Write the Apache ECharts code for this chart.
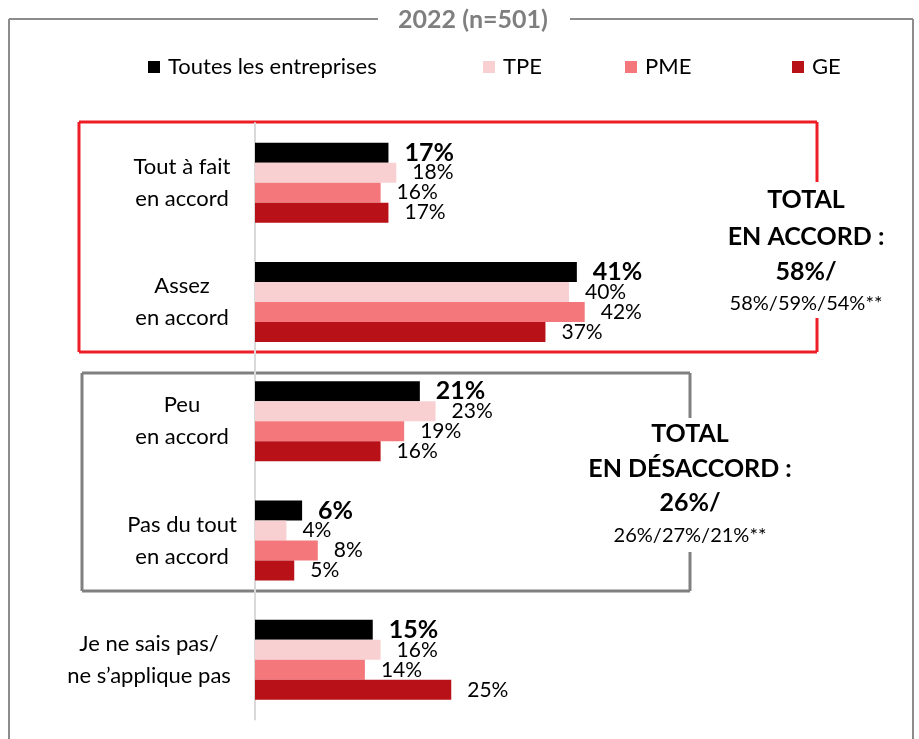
<!DOCTYPE html>
<html>
<head>
<meta charset="utf-8">
<script src="https://cdn.jsdelivr.net/npm/echarts@6/dist/echarts.min.js"></script>
<style>
  html, body { margin: 0; padding: 0; background: #fff; }
  #chart { width: 919px; height: 739px; }
</style>
</head>
<body>
<div id="chart"></div>
<script>
// Survey answers, 2022 (n=501)
const categories = [
  'Tout à fait\nen accord',
  'Assez\nen accord',
  'Peu\nen accord',
  'Pas du tout\nen accord',
  'Je ne sais pas/\nne s’applique pas'
];
const seriesNames = ['Toutes les entreprises', 'TPE', 'PME', 'GE'];
const toutes = [17, 41, 21, 6, 15];
const tpe = [18, 40, 23, 4, 16];
const pme = [16, 42, 19, 8, 14];
const ge = [17, 37, 16, 5, 25];
const titleText = '2022 (n=501)';
const totalAccord = ['TOTAL', 'EN ACCORD :', '58%/', '58%/59%/54%**'];
const totalDesaccord = ['TOTAL', 'EN DÉSACCORD :', '26%/', '26%/27%/21%**'];

const colors = ['#000000', '#F9D0D2', '#F3777B', '#B81118'];
const FONT = 'Lato';

const chart = echarts.init(document.getElementById('chart'), null, { renderer: 'canvas' });

function barSeries(name, data, idx) {
  const bold = idx === 0;
  return {
    name: name,
    type: 'bar',
    data: data,
    barWidth: 20,
    barGap: '0%',
    itemStyle: { color: colors[idx] },
    label: {
      show: true,
      position: 'right',
      distance: 16,
      formatter: '{c}%',
      color: '#000',
      fontFamily: FONT,
      fontSize: bold ? 25 : 21,
      fontWeight: bold ? 'bold' : 'normal'
    },
    emphasis: { disabled: true },
    animation: false
  };
}

function legendAt(name, left) {
  return {
    data: [name],
    left: left,
    top: 56,
    padding: 0,
    itemWidth: 12,
    itemHeight: 12,
    itemGap: 0,
    icon: 'rect',
    textStyle: { fontFamily: FONT, fontSize: 22, color: '#000', padding: [0, 0, 0, 3] },
    selectedMode: false
  };
}

function line(x1, y1, x2, y2, color, w) {
  return { type: 'line', shape: { x1, y1, x2, y2 }, style: { stroke: color, lineWidth: w }, silent: true };
}

function textEl(str, x, y, size, bold) {
  return {
    type: 'text', x: x, y: y, silent: true,
    style: {
      text: str, fill: '#000', font: (bold ? 'bold ' : '') + size + 'px ' + FONT,
      textAlign: 'center', textVerticalAlign: 'middle'
    }
  };
}

const frameGray = '#8c8c8c';
const boxRed = '#EE1D25';
const boxGray = '#808080';

const graphics = [
  // outer frame with title gap
  line(9, 19, 378, 19, frameGray, 2),
  line(570, 19, 913, 19, frameGray, 2),
  line(9, 19, 9, 739, frameGray, 2),
  line(913, 19, 913, 739, frameGray, 2),
  {
    type: 'text', x: 473, y: 20, silent: true,
    style: { text: titleText, fill: '#7f7f7f', font: 'bold 25px ' + FONT, textAlign: 'center', textVerticalAlign: 'middle' }
  },
  // agreement box
  line(79, 122, 817, 122, boxRed, 3),
  line(79, 352, 817, 352, boxRed, 3),
  line(79, 122, 79, 352, boxRed, 3),
  line(817, 122, 817, 182, boxRed, 3),
  line(817, 318, 817, 352, boxRed, 3),
  // disagreement box
  line(82, 373, 690, 373, boxGray, 3),
  line(82, 591, 690, 591, boxGray, 3),
  line(82, 373, 82, 591, boxGray, 3),
  line(690, 373, 690, 418, boxGray, 3),
  line(690, 552, 690, 591, boxGray, 3),
  // totals
  textEl(totalAccord[0], 806, 200, 25, true),
  textEl(totalAccord[1], 806, 237, 25, true),
  textEl(totalAccord[2], 806, 272, 25, true),
  textEl(totalAccord[3], 806, 304, 20, false),
  textEl(totalDesaccord[0], 690, 434, 25, true),
  textEl(totalDesaccord[1], 690, 469, 25, true),
  textEl(totalDesaccord[2], 690, 503, 25, true),
  textEl(totalDesaccord[3], 690, 536, 20, false)
];

const option = {
  backgroundColor: '#fff',
  animation: false,
  color: colors,
  legend: [
    legendAt(seriesNames[0], 148),
    legendAt(seriesNames[1], 483),
    legendAt(seriesNames[2], 625),
    legendAt(seriesNames[3], 792)
  ],
  grid: { left: 255, right: 271.5, top: 123, bottom: 19.5, containLabel: false },
  xAxis: {
    type: 'value', min: 0, max: 50,
    show: false,
    splitLine: { show: false }
  },
  yAxis: {
    type: 'category',
    data: categories,
    inverse: true,
    axisLine: { show: true, lineStyle: { color: '#d9d9d9', width: 2 } },
    axisTick: { show: false },
    axisLabel: {
      margin: 73,
      align: 'center',
      color: '#000',
      fontFamily: FONT,
      fontSize: 22,
      lineHeight: 32,
      formatter: function (v, i) {
        if (i === categories.length - 1) {
          return v.split('\n').map(s => '{w|' + s + '}').join('\n');
        }
        return v;
      },
      rich: {
        w: { fontFamily: FONT, fontSize: 22, lineHeight: 32, color: '#000', padding: [0, 66, 0, 0] }
      }
    }
  },
  series: [
    barSeries(seriesNames[0], toutes, 0),
    barSeries(seriesNames[1], tpe, 1),
    barSeries(seriesNames[2], pme, 2),
    barSeries(seriesNames[3], ge, 3)
  ],
  graphic: graphics
};

chart.setOption(option);
</script>
</body>
</html>
